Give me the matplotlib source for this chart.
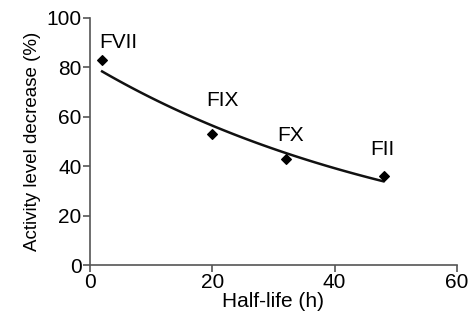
import numpy as np
import matplotlib.pyplot as plt

plt.rcParams['font.family'] = ['Liberation Sans', 'DejaVu Sans']

# data
factors = ['FVII', 'FIX', 'FX', 'FII']
half_life = np.array([2, 20, 32, 48])
decrease = np.array([83, 53, 43, 36])

# exponential trend line
slope, intercept = np.polyfit(half_life, np.log(decrease), 1)
xs = np.linspace(half_life.min(), half_life.max(), 100)
ys = np.exp(intercept + slope * xs)

fig = plt.figure(figsize=(4.73, 3.21), dpi=100)
ax = fig.add_axes([0.190, 0.174, 0.776, 0.770])

ax.plot(xs, ys, color='#111111', lw=1.8)
ax.scatter(half_life, decrease, marker='D', s=24, color='black', zorder=3)

label_pos = [(1.6, 88), (19.1, 64.4), (30.6, 50.2), (45.9, 44.5)]
for name, (lx, ly) in zip(factors, label_pos):
    ax.text(lx, ly, name, fontsize=15, ha='left', va='baseline')

ax.set_xlim(0, 60)
ax.set_ylim(0, 100)
ax.set_xticks([0, 20, 40, 60])
ax.set_yticks([0, 20, 40, 60, 80, 100])
ax.spines['top'].set_visible(False)
ax.spines['right'].set_visible(False)
for s in ['left', 'bottom']:
    ax.spines[s].set_color('#555555')
    ax.spines[s].set_linewidth(1.2)
ax.tick_params(direction='out', length=5, width=1.2, color='#555555', labelsize=15, pad=1)
ax.set_xlabel('Half-life (h)', fontsize=15, labelpad=0)
ax.set_ylabel('Activity level decrease (%)', fontsize=13.5, labelpad=4)

fig.savefig('out.png', dpi=100)
